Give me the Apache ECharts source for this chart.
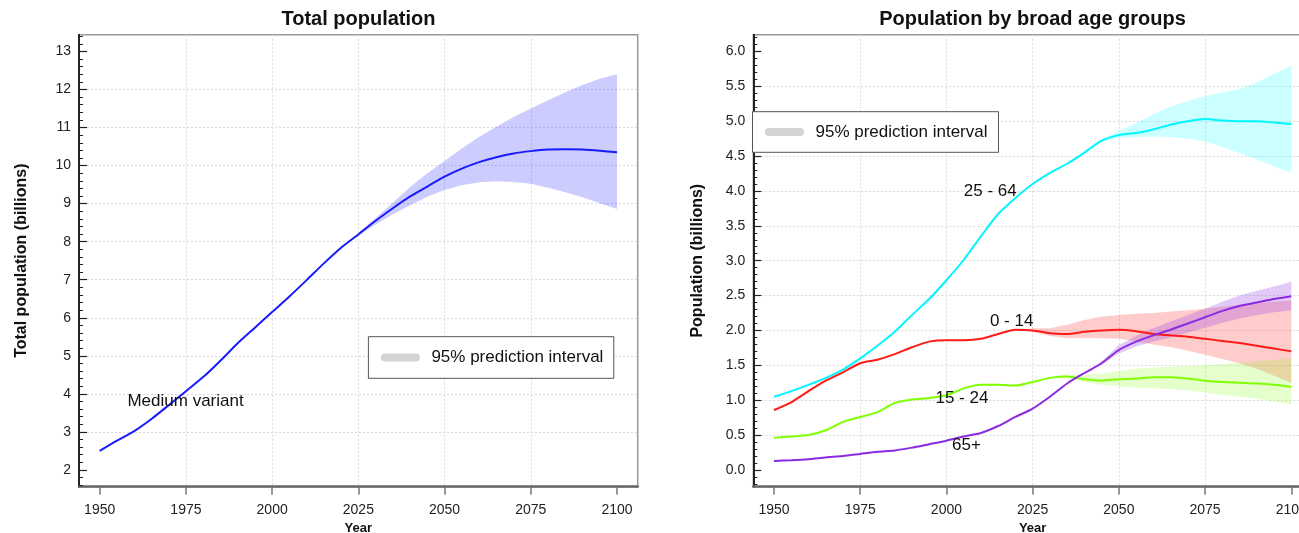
<!DOCTYPE html>
<html><head><meta charset="utf-8">
<script src="https://cdn.jsdelivr.net/npm/echarts@6/dist/echarts.min.js"></script>
<style>html,body{margin:0;padding:0;background:#fff}#c{width:1299px;height:533px}</style>
</head><body><div id="c"></div><script>
// ---------- data ----------
const years = [1950,1955,1960,1965,1970,1975,1980,1985,1990,1995,2000,2005,2010,2015,2020,2025,2030,2035,2040,2045,2050,2055,2060,2065,2070,2075,2080,2085,2090,2095,2100];
const totalPop = [2.50,2.77,3.02,3.34,3.70,4.07,4.44,4.87,5.33,5.74,6.15,6.56,6.99,7.43,7.84,8.19,8.55,8.88,9.19,9.45,9.71,9.92,10.09,10.22,10.32,10.38,10.42,10.43,10.42,10.39,10.35];
const totalBandYears = [2022,2025,2030,2035,2040,2045,2050,2055,2060,2065,2070,2075,2080,2085,2090,2095,2100];
const totalLo = [7.98,8.15,8.45,8.72,8.96,9.18,9.36,9.48,9.56,9.59,9.57,9.52,9.42,9.30,9.17,9.01,8.86];
const totalHi = [7.98,8.23,8.62,9.02,9.44,9.80,10.12,10.45,10.75,11.02,11.28,11.50,11.72,11.93,12.12,12.28,12.40];

const age25_64 = [1.05,1.13,1.22,1.32,1.44,1.60,1.78,1.98,2.22,2.45,2.72,3.01,3.35,3.67,3.90,4.10,4.26,4.39,4.55,4.72,4.80,4.83,4.88,4.95,5.00,5.03,5.01,5.00,5.00,4.98,4.96];
const age0_14  = [0.86,0.97,1.13,1.28,1.40,1.53,1.58,1.66,1.76,1.84,1.86,1.86,1.88,1.95,2.01,2.00,1.96,1.95,1.98,2.00,2.01,1.99,1.95,1.93,1.91,1.88,1.85,1.82,1.78,1.74,1.70];
const age15_24 = [0.46,0.48,0.50,0.57,0.69,0.76,0.83,0.96,1.01,1.03,1.07,1.17,1.22,1.22,1.21,1.26,1.32,1.34,1.30,1.28,1.30,1.31,1.33,1.33,1.31,1.28,1.26,1.25,1.24,1.22,1.19];
const age65    = [0.13,0.14,0.155,0.18,0.20,0.23,0.26,0.28,0.32,0.37,0.42,0.48,0.53,0.63,0.76,0.88,1.05,1.24,1.39,1.53,1.72,1.84,1.93,2.01,2.10,2.19,2.28,2.35,2.40,2.45,2.49];

const band25Years = [2040,2045,2050,2055,2060,2065,2070,2075,2080,2085,2090,2095,2100];
const band25Lo = [4.55,4.71,4.76,4.77,4.78,4.77,4.75,4.71,4.63,4.54,4.45,4.35,4.26];
const band25Hi = [4.55,4.74,4.86,4.97,5.10,5.21,5.29,5.36,5.41,5.46,5.56,5.68,5.80];
const band0Years = [2022,2025,2030,2035,2040,2045,2050,2055,2060,2065,2070,2075,2080,2085,2090,2095,2100];
const band0Lo = [2.01,1.98,1.92,1.89,1.89,1.89,1.88,1.84,1.80,1.76,1.71,1.65,1.59,1.53,1.45,1.35,1.25];
const band0Hi = [2.01,2.03,2.03,2.08,2.15,2.20,2.22,2.24,2.25,2.27,2.29,2.31,2.34,2.37,2.39,2.41,2.43];
const band15Years = [2030,2035,2040,2045,2050,2055,2060,2065,2070,2075,2080,2085,2090,2095,2100];
const band15Lo = [1.32,1.31,1.26,1.22,1.20,1.18,1.17,1.16,1.14,1.11,1.08,1.05,1.02,0.98,0.94];
const band15Hi = [1.32,1.37,1.37,1.38,1.42,1.45,1.47,1.48,1.49,1.50,1.52,1.54,1.56,1.58,1.60];
const band65Years = [2040,2045,2050,2055,2060,2065,2070,2075,2080,2085,2090,2095,2100];
const band65Lo = [1.39,1.51,1.67,1.77,1.84,1.90,1.97,2.04,2.11,2.17,2.22,2.26,2.29];
const band65Hi = [1.39,1.56,1.79,1.92,2.03,2.13,2.22,2.31,2.41,2.50,2.57,2.63,2.70];

const yearTicks = [1950,1975,2000,2025,2050,2075,2100];
const totalTicks = [2,3,4,5,6,7,8,9,10,11,12,13];
const ageTicks = [0,0.5,1,1.5,2,2.5,3,3.5,4,4.5,5,5.5,6];

const leftLabel = {text:'Medium variant', year:1974.9, value:3.81};
const ageLabels = [
  {text:'25 - 64', year:2012.7, value:3.99},
  {text:'0 - 14', year:2018.9, value:2.13},
  {text:'15 - 24', year:2004.5, value:1.03},
  {text:'65+', year:2005.8, value:0.36}
];

// ---------- chart ----------
const FONT = '"Liberation Sans", Arial, sans-serif';
const chart = echarts.init(document.getElementById('c'), null, {renderer:'canvas'});

function xAxisCfg(gi){
  return {
    type:'value', gridIndex:gi, min:1944, max:2106, minInterval:25, maxInterval:25,
    name:'Year', nameLocation:'middle', nameGap:33,
    nameTextStyle:{fontFamily:FONT, fontWeight:'bold', fontSize:13, color:'#111'},
    axisLine:{show:true, onZero:false, lineStyle:{color:'#666', width:2.5}},
    axisTick:{show:true, inside:false, length:8, customValues:yearTicks, lineStyle:{color:'#777', width:1.5}},
    axisLabel:{show:true, customValues:yearTicks, margin:16, fontFamily:FONT, fontSize:14, color:'#222', formatter:v=>String(v)},
    splitLine:{show:true, showMinLine:false, showMaxLine:false, lineStyle:{color:'#dadada', width:1, type:[2,2]}},
    minorTick:{show:false}
  };
}
function yAxisCfg(gi, min, max, step, ticks, name, gap, fmt){
  return {
    type:'value', gridIndex:gi, min:min, max:max, minInterval:step, maxInterval:step,
    name:name, nameLocation:'middle', nameGap:gap,
    nameTextStyle:{fontFamily:FONT, fontWeight:'bold', fontSize:16, color:'#111'},
    axisLine:{show:true, onZero:false, lineStyle:{color:'#222', width:2}},
    axisTick:{show:true, inside:true, length:8, customValues:ticks, lineStyle:{color:'#222', width:1.2}},
    minorTick:{show:true, splitNumber:5, length:4, lineStyle:{color:'#222', width:1}},
    axisLabel:{show:true, customValues:ticks, margin:8, fontFamily:FONT, fontSize:14, color:'#222', formatter:fmt},
    splitLine:{show:true, showMinLine:false, showMaxLine:false, lineStyle:{color:'#dadada', width:1, type:[2,2]}}
  };
}
function bandSeries(gi, bx, lo, hi, color){
  const data = bx.map((x,i)=>[x, lo[i], hi[i]]);
  return {
    type:'custom', xAxisIndex:gi, yAxisIndex:gi, data:data, z:1, silent:true,
    encode:{x:0, y:[1,2]},
    renderItem:function(params, api){
      if (params.dataIndex !== 0) return null;
      const pts = [];
      for (let i=0;i<data.length;i++) pts.push(api.coord([data[i][0], data[i][2]]));
      for (let i=data.length-1;i>=0;i--) pts.push(api.coord([data[i][0], data[i][1]]));
      return {type:'polygon', shape:{points:pts}, style:{fill:color, stroke:null}};
    }
  };
}
function lineSeries(gi, vals, color, label){
  const s = {
    type:'line', xAxisIndex:gi, yAxisIndex:gi, data:years.map((y,i)=>[y, vals[i]]),
    showSymbol:false, symbol:'none', smooth:0.25, z:3, silent:true,
    lineStyle:{color:color, width:2}
  };
  if (label){
    s.markPoint = {
      symbol:'circle', symbolSize:0, silent:true, animation:false,
      data:[{name:label.text, coord:[label.year, label.value]}],
      label:{show:true, position:'inside', formatter:'{b}', fontFamily:FONT, fontSize:17, color:'#111'}
    };
  }
  return s;
}
function legendBox(x, y, w, h){
  return {
    type:'group', x:x, y:y, z:100,
    children:[
      {type:'rect', shape:{x:0, y:0, width:w, height:h}, style:{fill:'#fff', stroke:'#555', lineWidth:1}, z:100},
      {type:'line', shape:{x1:16.5, y1:h/2, x2:47.5, y2:h/2}, style:{stroke:'#d3d3d3', lineWidth:8, lineCap:'round'}, z:101},
      {type:'text', x:63, y:h/2, style:{text:'95% prediction interval', fontFamily:FONT, fontSize:17, fill:'#111', verticalAlign:'middle'}, z:101}
    ]
  };
}

const option = {
  animation:false,
  backgroundColor:'#fff',
  grid:[
    {left:79, top:34.7, width:558.7, height:452, show:true, borderColor:'#999', borderWidth:1.5, backgroundColor:'transparent', containLabel:false, outerBoundsMode:'none'},
    {left:753.3, top:34.7, width:558.7, height:452, show:true, borderColor:'#999', borderWidth:1.5, backgroundColor:'transparent', containLabel:false, outerBoundsMode:'none'}
  ],
  xAxis:[xAxisCfg(0), xAxisCfg(1)],
  yAxis:[
    yAxisCfg(0, 1.56, 13.44, 1, totalTicks, 'Total population (billions)', 49, v=>String(v)),
    yAxisCfg(1, -0.24, 6.24, 0.5, ageTicks, 'Population (billions)', 48, v=>v.toFixed(1))
  ],
  graphic:[
    {type:'text', z:100, style:{text:'Total population', x:358.5, y:19, fontFamily:FONT, fontWeight:'bold', fontSize:20, fill:'#111', align:'center', verticalAlign:'middle'}},
    {type:'text', z:100, style:{text:'Population by broad age groups', x:1032.5, y:19, fontFamily:FONT, fontWeight:'bold', fontSize:20, fill:'#111', align:'center', verticalAlign:'middle'}},
    legendBox(368.4, 336.7, 245.4, 41.6),
    legendBox(752.5, 111.7, 246, 40.6)
  ],
  series:[
    bandSeries(0, totalBandYears, totalLo, totalHi, 'rgba(0,0,255,0.2)'),
    lineSeries(0, totalPop, '#1a1aff', leftLabel),
    bandSeries(1, band25Years, band25Lo, band25Hi, 'rgba(0,255,255,0.2)'),
    bandSeries(1, band0Years, band0Lo, band0Hi, 'rgba(255,0,0,0.2)'),
    bandSeries(1, band15Years, band15Lo, band15Hi, 'rgba(127,255,0,0.2)'),
    bandSeries(1, band65Years, band65Lo, band65Hi, 'rgba(138,43,226,0.25)'),
    lineSeries(1, age25_64, '#00f5ff', ageLabels[0]),
    lineSeries(1, age0_14, '#ff1a1a', ageLabels[1]),
    lineSeries(1, age15_24, '#7fff00', ageLabels[2]),
    lineSeries(1, age65, '#8a2be2', ageLabels[3])
  ]
};
chart.setOption(option);
</script></body></html>
